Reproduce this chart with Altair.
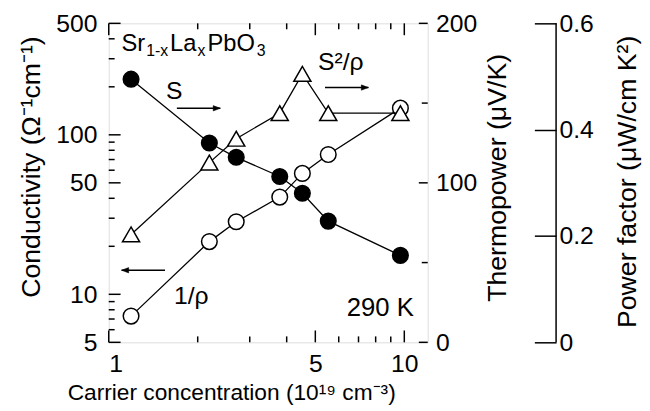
import altair as alt
import pandas as pd

# ---- data ----
carrier = [1.19, 2.19, 2.70, 3.79, 4.52, 5.53, 9.7]          # 10^19 cm^-3
thermopower = [165, 125, 116, 104, 93.5, 76, 54.5]            # uV/K  (filled circles)
conductivity = [7.3, 21.4, 28.5, 40.7, 57.3, 75.2, 147]       # 1/(Ohm cm) (open circles)
power_factor = [0.203, 0.338, 0.383, 0.431, 0.505, 0.431, 0.431]  # uW/cm K^2 (triangles)

x_major = [1, 5, 10]
x_minor = [2, 3, 4, 6, 7, 8, 9]
x_labels = [1, 5, 10]
cond_major = [5, 10, 50, 100, 500]
cond_minor = [6, 7, 8, 9, 20, 30, 40, 60, 70, 80, 90, 200, 300, 400]
tp_major = [0, 100, 200]
tp_minor = [50, 150]
pf_ticks = [0, 0.2, 0.4, 0.6]

FONT = "Liberation Sans"
W, H = 323, 323
LBL = 25
YT = 27

df = pd.DataFrame({"n": carrier, "S": thermopower, "sigma": conductivity, "pf": power_factor})
one = pd.DataFrame({"a": [0]})

x_scale = alt.Scale(type="log", domain=[1, 12], nice=False)
cond_scale = alt.Scale(type="log", domain=[5, 500], nice=False)
tp_scale = alt.Scale(domain=[0, 200], nice=False, zero=False)
pf_scale = alt.Scale(domain=[0, 0.6], nice=False, zero=False)

x_axis = alt.Axis(values=x_labels, format="d", ticks=False, domain=False, grid=False,
                  labelPadding=10, labelFontSize=LBL, labelFont=FONT, labelColor="black",
                  title="Carrier concentration (10¹⁹ cm⁻³)", titleFontSize=23, titleFont=FONT,
                  titleFontWeight="normal", titleColor="black", titleX=124, titleY=51,
                  titleBaseline="middle", titleAlign="center")
cond_axis = alt.Axis(orient="left", values=cond_major, format="d", ticks=False, domain=False,
                     grid=False, labelPadding=12, labelFontSize=LBL, labelFont=FONT,
                     labelColor="black", title="Conductivity (Ω⁻¹cm⁻¹)", titleFontSize=YT,
                     titleFont=FONT, titleFontWeight="normal", titleColor="black",
                     titleX=-78, titleY=145, titleAngle=270, titleBaseline="middle",
                     titleAlign="center")
tp_axis = alt.Axis(orient="right", values=tp_major, format="d", ticks=False, domain=False,
                   grid=False, labelPadding=8, labelFontSize=LBL, labelFont=FONT,
                   labelColor="black", title="Thermopower (μV/K)", titleFontSize=YT,
                   titleFont=FONT, titleFontWeight="normal", titleColor="black",
                   titleX=71, titleY=156, titleAngle=270, titleBaseline="middle",
                   titleAlign="center")
pf_axis = alt.Axis(orient="right", offset=108, values=pf_ticks, format="~g", ticks=True,
                   tickSize=22, tickWidth=1.5, tickColor="black", domain=False, grid=False,
                   labelPadding=3, labelFontSize=LBL, labelFont=FONT, labelColor="black",
                   title="Power factor (μW/cm K²)", titleFontSize=YT, titleFont=FONT,
                   titleFontWeight="normal", titleColor="black", titleX=94, titleY=160,
                   titleAngle=270, titleBaseline="middle", titleAlign="center")

X = alt.X("n:Q", scale=x_scale, axis=x_axis)

def tick_df(vals):
    return pd.DataFrame({"v": vals})

# ---- x-axis inward ticks (bottom and top) ----
xv = alt.X("v:Q", scale=x_scale, axis=x_axis)
x_ticks = alt.layer(
    alt.Chart(tick_df(x_major)).mark_rule(color="black", strokeWidth=1.5).encode(
        x=xv, y=alt.value(H), y2=alt.value(H - 12)),
    alt.Chart(tick_df(x_minor)).mark_rule(color="black", strokeWidth=1.5).encode(
        x=xv, y=alt.value(H), y2=alt.value(H - 6)),
    alt.Chart(tick_df(x_major)).mark_rule(color="black", strokeWidth=1.5).encode(
        x=xv, y=alt.value(0), y2=alt.value(12)),
    alt.Chart(tick_df(x_minor)).mark_rule(color="black", strokeWidth=1.5).encode(
        x=xv, y=alt.value(0), y2=alt.value(6)),
)

# ---- conductivity (open circles, left log axis) ----
cv = alt.Y("v:Q", scale=cond_scale, axis=cond_axis)
cy = alt.Y("sigma:Q", scale=cond_scale, axis=cond_axis)
cond_group = alt.layer(
    alt.Chart(tick_df(cond_major)).mark_rule(color="black", strokeWidth=1.5).encode(
        y=cv, x=alt.value(0), x2=alt.value(12)),
    alt.Chart(tick_df(cond_minor)).mark_rule(color="black", strokeWidth=1.5).encode(
        y=cv, x=alt.value(0), x2=alt.value(6)),
    alt.Chart(df).mark_line(color="black", strokeWidth=1.3).encode(x=X, y=cy),
    alt.Chart(df).mark_point(shape="circle", filled=True, fill="white", stroke="black",
                             strokeWidth=1.5, size=250, opacity=1).encode(x=X, y=cy),
)

# ---- thermopower (filled circles, right axis) ----
tv = alt.Y("v:Q", scale=tp_scale, axis=tp_axis)
ty = alt.Y("S:Q", scale=tp_scale, axis=tp_axis)
tp_group = alt.layer(
    alt.Chart(tick_df(tp_major)).mark_rule(color="black", strokeWidth=1.5).encode(
        y=tv, x=alt.value(W), x2=alt.value(W - 9)),
    alt.Chart(tick_df(tp_minor)).mark_rule(color="black", strokeWidth=1.5).encode(
        y=tv, x=alt.value(W), x2=alt.value(W - 6)),
    alt.Chart(df).mark_line(color="black", strokeWidth=1.3).encode(x=X, y=ty),
    alt.Chart(df).mark_point(shape="circle", filled=True, fill="black", stroke="black",
                             strokeWidth=1.5, size=250, opacity=1).encode(x=X, y=ty),
)

# ---- power factor (open triangles, offset right axis) ----
py = alt.Y("pf:Q", scale=pf_scale, axis=pf_axis)
pf_group = alt.layer(
    alt.Chart(df).mark_line(color="black", strokeWidth=1.3).encode(x=X, y=py),
    alt.Chart(df).mark_point(shape="triangle-up", filled=True, fill="white", stroke="black",
                             strokeWidth=1.5, size=300, opacity=1).encode(x=X, y=py),
)

# ---- annotations ----
def txt(s, x, y, size=25, align="left"):
    return alt.Chart(one).mark_text(font=FONT, fontSize=size, align=align,
                                    baseline="alphabetic", color="black").encode(
        x=alt.value(x), y=alt.value(y), text=alt.value(s))

ARROW_R = "M1,0L-0.2,-0.45L-0.2,0.45Z"
ARROW_L = "M-1,0L0.2,-0.45L0.2,0.45Z"

def arrow(x1, x2, y, right=True):
    line = alt.Chart(one).mark_rule(color="black", strokeWidth=1.5).encode(
        x=alt.value(x1), x2=alt.value(x2), y=alt.value(y))
    hx = x2 - 6 if right else x1 + 6
    head = alt.Chart(one).mark_point(shape=ARROW_R if right else ARROW_L, filled=True,
                                     fill="black", stroke="black", strokeWidth=0.5,
                                     size=144, opacity=1).encode(
        x=alt.value(hx), y=alt.value(y))
    return [line, head]

pf_line = alt.Chart(one).mark_rule(color="black", strokeWidth=1.5).encode(
    x=alt.value(453), y=alt.value(0), y2=alt.value(H))

annotations = [
    txt("Sr", 13, 28, size=24), txt("1-x", 38, 33, size=16), txt("La", 62, 28, size=24),
    txt("x", 90, 33, size=16), txt("PbO", 100, 28, size=24), txt("3", 150, 33, size=16),
    txt("S", 58, 77),
    txt("S²/ρ", 212, 47),
    txt("1/ρ", 66, 284),
    txt("290 K", 309, 296, size=26, align="right"),
    pf_line,
] + arrow(69, 113, 86) + arrow(219, 263, 65) + arrow(13, 57, 250, right=False)

chart = alt.layer(
    x_ticks, cond_group, tp_group, pf_group, *annotations
).resolve_scale(y="independent").properties(
    width=W, height=H,
    padding={"left": 102, "top": 13, "right": 217, "bottom": 67},
    autosize=alt.AutoSizeParams(type="none"),
).configure_view(stroke="black", strokeWidth=2).configure(background="white")

chart.save("out.html", embed_options={"renderer": "svg", "actions": False})
